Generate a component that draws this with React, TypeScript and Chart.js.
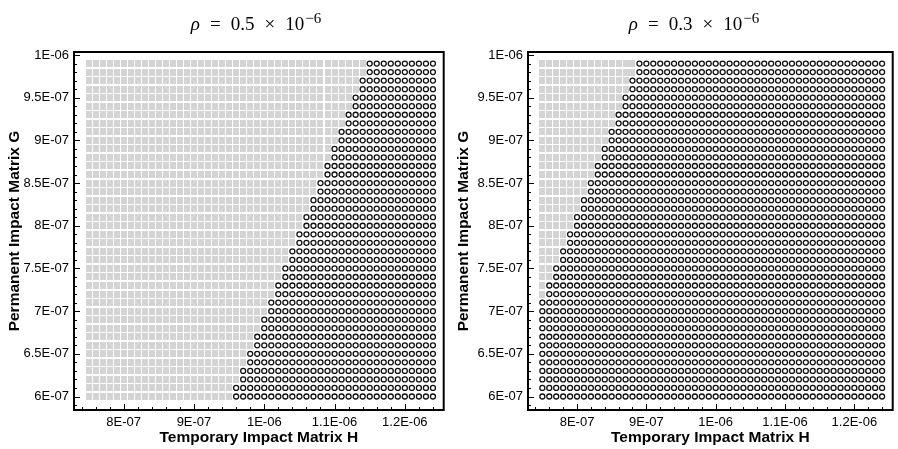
import React, { useEffect, useRef } from 'react';
import { Chart, registerables } from 'chart.js';

Chart.register(...registerables);

// Grid of temporary impact H values (columns)
const hValues = [
  7.5e-7, 7.6e-7, 7.7e-7, 7.8e-7, 7.9e-7, 8.0e-7, 8.1e-7, 8.2e-7, 8.3e-7, 8.4e-7,
  8.5e-7, 8.6e-7, 8.7e-7, 8.8e-7, 8.9e-7, 9.0e-7, 9.1e-7, 9.2e-7, 9.3e-7, 9.4e-7,
  9.5e-7, 9.6e-7, 9.7e-7, 9.8e-7, 9.9e-7, 1.0e-6, 1.01e-6, 1.02e-6, 1.03e-6, 1.04e-6,
  1.05e-6, 1.06e-6, 1.07e-6, 1.08e-6, 1.09e-6, 1.1e-6, 1.11e-6, 1.12e-6, 1.13e-6, 1.14e-6,
  1.15e-6, 1.16e-6, 1.17e-6, 1.18e-6, 1.19e-6, 1.2e-6, 1.21e-6, 1.22e-6, 1.23e-6, 1.24e-6,
];

// Grid of permanent impact G values (rows, ascending)
const gValues = [
  6.0e-7, 6.1e-7, 6.2e-7, 6.3e-7, 6.4e-7, 6.5e-7, 6.6e-7, 6.7e-7, 6.8e-7, 6.9e-7,
  7.0e-7, 7.1e-7, 7.2e-7, 7.3e-7, 7.4e-7, 7.5e-7, 7.6e-7, 7.7e-7, 7.8e-7, 7.9e-7,
  8.0e-7, 8.1e-7, 8.2e-7, 8.3e-7, 8.4e-7, 8.5e-7, 8.6e-7, 8.7e-7, 8.8e-7, 8.9e-7,
  9.0e-7, 9.1e-7, 9.2e-7, 9.3e-7, 9.4e-7, 9.5e-7, 9.6e-7, 9.7e-7, 9.8e-7, 9.9e-7,
];

// Smallest H (per G row) at which the condition holds (circles), rho = 0.5e-6
const leftFirstH = [
  9.6e-7, 9.6e-7, 9.7e-7, 9.7e-7, 9.8e-7, 9.8e-7, 9.9e-7, 9.9e-7, 1.0e-6, 1.0e-6,
  1.01e-6, 1.01e-6, 1.02e-6, 1.02e-6, 1.03e-6, 1.03e-6, 1.04e-6, 1.04e-6, 1.05e-6, 1.05e-6,
  1.06e-6, 1.06e-6, 1.07e-6, 1.07e-6, 1.08e-6, 1.08e-6, 1.09e-6, 1.09e-6, 1.1e-6, 1.1e-6,
  1.11e-6, 1.11e-6, 1.12e-6, 1.12e-6, 1.13e-6, 1.13e-6, 1.14e-6, 1.14e-6, 1.15e-6, 1.15e-6,
];

// Smallest H (per G row) at which the condition holds (circles), rho = 0.3e-6
const rightFirstH = [
  7.5e-7, 7.5e-7, 7.5e-7, 7.5e-7, 7.5e-7, 7.5e-7, 7.5e-7, 7.5e-7, 7.5e-7, 7.5e-7,
  7.5e-7, 7.5e-7, 7.6e-7, 7.6e-7, 7.7e-7, 7.7e-7, 7.8e-7, 7.8e-7, 7.9e-7, 7.9e-7,
  8.0e-7, 8.0e-7, 8.1e-7, 8.1e-7, 8.2e-7, 8.2e-7, 8.3e-7, 8.3e-7, 8.4e-7, 8.4e-7,
  8.5e-7, 8.5e-7, 8.6e-7, 8.6e-7, 8.7e-7, 8.7e-7, 8.8e-7, 8.8e-7, 8.9e-7, 8.9e-7,
];

const xTickValues = [8e-7, 9e-7, 1e-6, 1.1e-6, 1.2e-6];
const xTickLabels = ['8E-07', '9E-07', '1E-06', '1.1E-06', '1.2E-06'];
const yTickValues = [6e-7, 6.5e-7, 7e-7, 7.5e-7, 8e-7, 8.5e-7, 9e-7, 9.5e-7, 1e-6];
const yTickLabels = ['6E-07', '6.5E-07', '7E-07', '7.5E-07', '8E-07', '8.5E-07', '9E-07', '9.5E-07', '1E-06'];

const X_MIN = 7.293e-7;
const X_MAX = 1.2553e-6;
const Y_MIN = 5.842e-7;
const Y_MAX = 1.0035e-6;

const SANS = "'Liberation Sans', Arial, sans-serif";

function splitPoints(firstH: number[]) {
  const fail: { x: number; y: number }[] = [];
  const ok: { x: number; y: number }[] = [];
  gValues.forEach((g, r) => {
    hValues.forEach((h) => {
      if (h >= firstH[r] - 1e-12) ok.push({ x: h, y: g });
      else fail.push({ x: h, y: g });
    });
  });
  return { fail, ok };
}

const frameTicks = {
  id: 'frameTicks',
  afterDraw(chart: any) {
    const { ctx, chartArea: a, scales } = chart;
    const x = scales.x;
    const y = scales.y;
    ctx.save();
    ctx.strokeStyle = '#000';
    ctx.lineWidth = 1;
    ctx.beginPath();
    for (let k = 37; k <= 62; k++) {
      const v = k * 2e-8;
      if (v < x.min || v > x.max) continue;
      const px = Math.round(x.getPixelForValue(v)) + 0.5;
      const major = k % 5 === 0;
      const len = major ? 6 : 3;
      ctx.moveTo(px, a.bottom);
      ctx.lineTo(px, a.bottom - len);
    }
    for (let k = 58; k <= 100; k++) {
      const v = k * 1e-8;
      if (v < y.min || v > y.max) continue;
      const py = Math.round(y.getPixelForValue(v)) + 0.5;
      const major = k % 5 === 0;
      const len = major ? 6 : 3;
      ctx.moveTo(a.left, py);
      ctx.lineTo(a.left + len, py);
    }
    ctx.stroke();
    ctx.lineWidth = 2;
    ctx.strokeRect(a.left, a.top, a.right - a.left, a.bottom - a.top);
    ctx.restore();
  },
};

function makeSquare() {
  const c = document.createElement('canvas');
  c.width = 6;
  c.height = 7;
  const g = c.getContext('2d')!;
  g.fillStyle = '#d4d4d4';
  g.fillRect(0, 0, 6, 7);
  return c;
}

function Panel({ firstH, yAxisWidth, rightPad }: { firstH: number[]; yAxisWidth: number; rightPad: number }) {
  const ref = useRef<HTMLCanvasElement>(null);
  useEffect(() => {
    const { fail, ok } = splitPoints(firstH);
    const sq = makeSquare();
    const chart = new Chart(ref.current!, {
      type: 'scatter',
      data: {
        datasets: [
          {
            data: fail,
            pointStyle: sq as any,
            pointRadius: 3,
            backgroundColor: '#d4d4d4',
            borderWidth: 0,
          },
          {
            data: ok,
            pointStyle: 'circle',
            pointRadius: 2.5,
            borderWidth: 1.3,
            borderColor: '#111',
            backgroundColor: 'rgba(0,0,0,0)',
          },
        ],
      },
      options: {
        responsive: false,
        animation: false,
        layout: { padding: { top: 52, right: rightPad, left: 0, bottom: 0 } },
        plugins: { legend: { display: false }, tooltip: { enabled: false }, title: { display: false } },
        scales: {
          x: {
            type: 'linear',
            min: X_MIN,
            max: X_MAX,
            afterBuildTicks: (s: any) => {
              s.ticks = xTickValues.map((v) => ({ value: v }));
            },
            afterFit: (s: any) => {
              s.height = 39;
            },
            ticks: {
              autoSkip: false,
              maxRotation: 0,
              padding: 5,
              color: '#000',
              font: { family: SANS, size: 13 },
              callback: (_v: any, i: number) => xTickLabels[i],
            },
            grid: { display: false, drawTicks: false },
            border: { display: false },
            title: {
              display: true,
              text: 'Temporary Impact Matrix H',
              color: '#000',
              font: { family: SANS, size: 15.5, weight: 'bold' },
              padding: { top: 0, bottom: 2 },
            },
          },
          y: {
            type: 'linear',
            min: Y_MIN,
            max: Y_MAX,
            afterBuildTicks: (s: any) => {
              s.ticks = yTickValues.map((v) => ({ value: v }));
            },
            afterFit: (s: any) => {
              s.width = yAxisWidth;
            },
            ticks: {
              autoSkip: false,
              padding: 5,
              color: '#000',
              font: { family: SANS, size: 13 },
              callback: (_v: any, i: number) => yTickLabels[i],
            },
            grid: { display: false, drawTicks: false },
            border: { display: false },
            title: {
              display: true,
              text: 'Permanent Impact Matrix G',
              color: '#000',
              font: { family: SANS, size: 15.5, weight: 'bold' },
              padding: { top: 5, bottom: 0 },
            },
          },
        },
      },
      plugins: [frameTicks],
    });
    return () => chart.destroy();
  }, [firstH, yAxisWidth, rightPad]);
  return <canvas ref={ref} width={449} height={449} style={{ display: 'block', width: 449, height: 449 }} />;
}

function Title({ value, center }: { value: string; center: number }) {
  const gap = { display: 'inline-block', margin: '0 10px' };
  return (
    <div
      style={{
        position: 'absolute',
        left: center - 120,
        width: 240,
        top: 14,
        textAlign: 'center',
        fontFamily: "'Liberation Serif', 'DejaVu Serif', serif",
        fontSize: 19,
        lineHeight: '19px',
        color: '#000',
        whiteSpace: 'nowrap',
      }}
    >
      <i>ρ</i>
      <span style={gap}>=</span>
      {value}
      <span style={gap}>×</span>
      10
      <span style={{ fontSize: 15, position: 'relative', top: -7, marginLeft: 1 }}>−6</span>
    </div>
  );
}

export default function App() {
  return (
    <div style={{ position: 'fixed', left: 0, top: 0, width: 898, height: 449, background: '#fff' }}>
      <div style={{ position: 'absolute', left: 0, top: 0 }}>
        <Panel firstH={leftFirstH} yAxisWidth={74} rightPad={3} />
      </div>
      <div style={{ position: 'absolute', left: 449, top: 0 }}>
        <Panel firstH={rightFirstH} yAxisWidth={79} rightPad={3} />
      </div>
      <Title value="0.5" center={256} />
      <Title value="0.3" center={694} />
    </div>
  );
}
